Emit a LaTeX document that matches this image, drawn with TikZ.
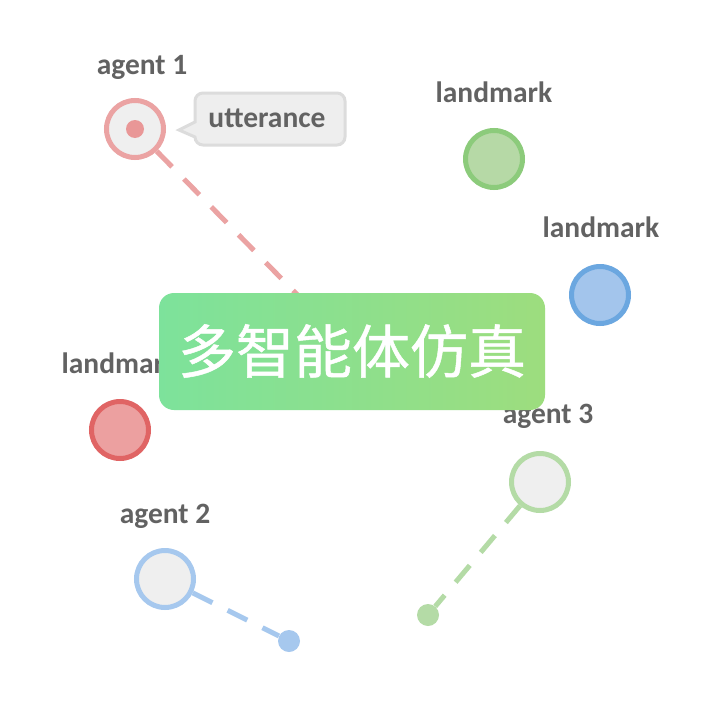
\documentclass[tikz,border=0pt]{standalone}
\usepackage{fontspec}
\newfontfamily\labfont{Carlito}
\newfontfamily\cjk[FakeBold=0.8]{Noto Sans CJK SC}
\definecolor{txtgray}{HTML}{626262}
\definecolor{aonestroke}{HTML}{EBA3A3}
\definecolor{aonedot}{HTML}{E99797}
\definecolor{atwostroke}{HTML}{A6C8EE}
\definecolor{athreestroke}{HTML}{B4DBA6}
\definecolor{agentfill}{HTML}{EFEFEF}
\definecolor{lmgfill}{HTML}{B6D9A6}
\definecolor{lmgstroke}{HTML}{8CCB7B}
\definecolor{lmbfill}{HTML}{A3C5EC}
\definecolor{lmbstroke}{HTML}{6BA7E0}
\definecolor{lmrfill}{HTML}{ECA0A0}
\definecolor{lmrstroke}{HTML}{E06464}
\definecolor{bubfill}{HTML}{EEEEEE}
\definecolor{bubstroke}{HTML}{DCDCDC}
\definecolor{boxleft}{HTML}{7DE29B}
\definecolor{boxright}{HTML}{9DDD7E}
\tikzset{
  lab/.style={font=\labfont\bfseries\fontsize{29.5}{32}\selectfont, text=txtgray, anchor=base, inner sep=0pt},
  agentc/.style={circle, draw=#1, line width=5pt, fill=agentfill, minimum size=57pt, inner sep=0pt},
  landc/.style n args={2}{circle, draw=#1, fill=#2, line width=5pt, minimum size=57pt, inner sep=0pt},
  tdot/.style={circle, fill=#1, minimum size=22pt, inner sep=0pt},
  dline/.style={draw=#1, line width=5pt, dash pattern=on 22pt off 17pt},
}
\begin{document}
\begin{tikzpicture}[x=1pt,y=-1pt]
\useasboundingbox (0,0) rectangle (704,704);
\fill[white] (0,0) rectangle (704,704);
% hidden targets / dots
\coordinate (t1) at (322,320);
\node[tdot=atwostroke] (d2) at (289,641) {};
\node[tdot=athreestroke] (d3) at (428,615) {};
% agents
\node[agentc=aonestroke] (a1) at (135,129) {};
\node[agentc=atwostroke] (a2) at (165,579) {};
\node[agentc=athreestroke] (a3) at (540,482) {};
% dashed connectors
\draw[dline=aonestroke] (a1) -- (t1);
\draw[dline=atwostroke] (a2) -- (d2);
\draw[dline=athreestroke] (a3) -- (d3);
\node[circle, fill=aonedot, minimum size=18pt, inner sep=0pt] (a1dot) at (a1) {};
% landmarks
\node[landc={lmgstroke}{lmgfill}] (lg) at (494,159) {};
\node[landc={lmbstroke}{lmbfill}] (lb) at (600,295) {};
\node[landc={lmrstroke}{lmrfill}] (lr) at (120,430) {};
% labels
\node[lab] (la1) at (142,74) {agent 1};
\node[lab] (la2) at (165,523) {agent 2};
\node[lab] (la3) at (548,423) {agent 3};
\node[lab] (llg) at (494,102) {landmark};
\node[lab] (llb) at (601,237) {landmark};
\node[lab] (llr) at (120,373) {landmark};
% utterance bubble
\draw[bubstroke, fill=bubfill, line width=3pt, rounded corners=8pt]
  (195,122) -- (195,93) -- (345,93) -- (345,145) -- (195,145) [sharp corners] -- (195,137) -- (179,130) -- cycle;
\node[lab] (utt) at (267,127) {utterance};
% central box
\shade[left color=boxleft, right color=boxright, rounded corners=15pt] (159,293) rectangle (545,410);
\node[font=\cjk\fontsize{58}{62}\selectfont, text=white, inner sep=0pt] (title) at (352,351) {多智能体仿真};
\end{tikzpicture}
\end{document}
